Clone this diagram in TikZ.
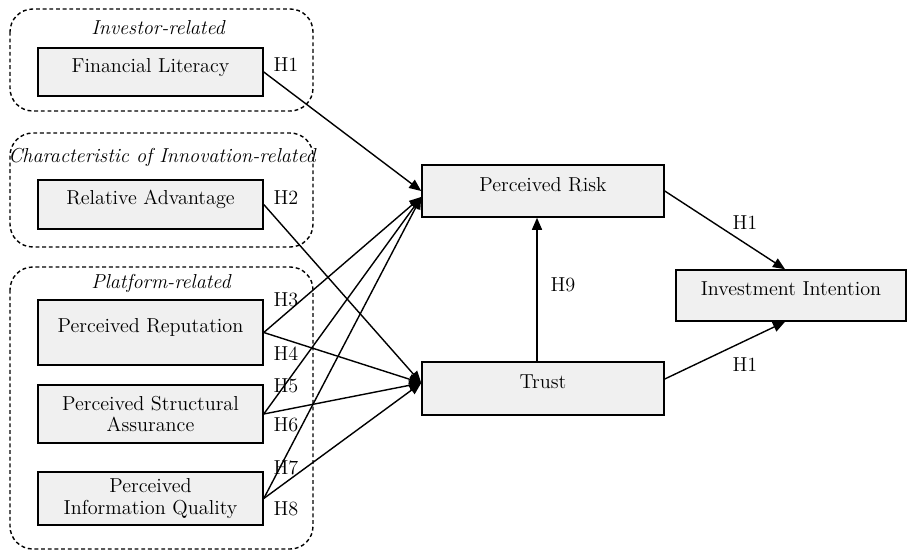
\documentclass[tikz,border=0pt]{standalone}
\usepackage{tikz}
\usetikzlibrary{arrows.meta,positioning,calc}

\begin{document}
\begin{tikzpicture}[x=0.02cm,y=-0.02cm,
  box/.style={draw,line width=0.9pt,fill=black!6,minimum width=4.5cm,align=center,font=\fontsize{11.5}{12}\selectfont},
  oneline/.style={text height=8pt,text depth=8pt},
  grp/.style={draw,line width=0.8pt,dash pattern=on 2.2pt off 1.6pt,rounded corners=13pt},
  title/.style={font=\fontsize{11.5}{12}\selectfont\itshape},
  hyp/.style={font=\fontsize{11.5}{12}\selectfont},
  arr/.style={-{Triangle[length=2.4mm,width=2mm]},line width=0.8pt}]
  \useasboundingbox (0,0) rectangle (909,551);
  % groups of antecedents
  \draw[grp] (10,9) rectangle (313,111);
  \draw[grp] (10,133) rectangle (313,247);
  \draw[grp] (10,267) rectangle (313,549);
  \node[title] (tinv) at (158,28) {Investor-related};
  \node[title] (tchar) at (162,157) {Characteristic of Innovation-related};
  \node[title] (tplat) at (161,283) {Platform-related};
  % boxes
  \node[box,oneline,minimum height=0.96cm] (fl) at (150.5,72) {Financial Literacy};
  \node[box,oneline,minimum height=0.98cm] (ra) at (150.5,204.5) {Relative Advantage};
  \node[box,oneline,minimum height=1.3cm] (rep) at (150.5,332.5) {Perceived Reputation};
  \node[box,minimum height=1.16cm] (psa) at (150.5,414) {Perceived Structural\\Assurance};
  \node[box,minimum height=1.06cm] (piq) at (150.5,498.5) {Perceived\\Information Quality};
  \node[box,oneline,minimum width=4.84cm,minimum height=1.04cm] (risk) at (543,191) {Perceived Risk};
  \node[box,oneline,minimum width=4.84cm,minimum height=1.06cm] (trust) at (543,388.5) {Trust};
  \node[box,oneline,minimum width=4.6cm,minimum height=1.02cm] (inv) at (791,295.5) {Investment Intention};
  % hypotheses
  \node[hyp] (h1) at (286,65) {H1};
  \node[hyp] (h2) at (286,198) {H2};
  \node[hyp] (h3) at (286,300) {H3};
  \node[hyp] (h4) at (286,354) {H4};
  \node[hyp] (h5) at (286,386) {H5};
  \node[hyp] (h6) at (286,425) {H6};
  \node[hyp] (h7) at (286,468) {H7};
  \node[hyp] (h8) at (286,509) {H8};
  \node[hyp] (h9) at (563,285) {H9};
  \node[hyp] (h1a) at (745,223) {H1};
  \node[hyp] (h1b) at (745,365) {H1};
  % paths
  \draw[arr] (fl.east) -- (risk.west);
  \foreach \s in {rep,psa,piq}
    \draw[arr] (\s.east) -- ([yshift=-0.12cm]risk.west);
  \foreach \s in {ra,rep,psa,piq}
    \draw[arr] (\s.east) -- ([yshift=0.11cm]trust.west);
  \draw[arr] ([xshift=-0.12cm]trust.north) -- ([xshift=-0.12cm]risk.south);
  \draw[arr] (risk.east) -- ([xshift=-0.12cm]inv.north);
  \draw[arr] ([yshift=0.19cm]trust.east) -- ([xshift=-0.12cm]inv.south);
\end{tikzpicture}
\end{document}
